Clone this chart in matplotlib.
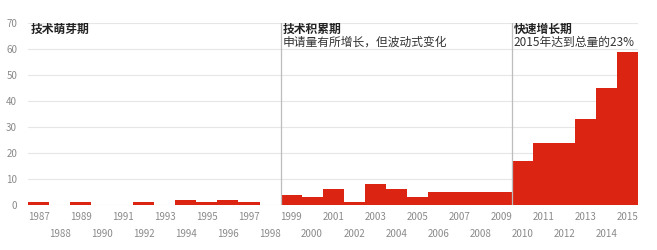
import numpy as np
import matplotlib
matplotlib.use("Agg")
import matplotlib.pyplot as plt

plt.rcParams['font.family'] = ['Noto Sans CJK SC', 'DejaVu Sans']

years = list(range(1987, 2016))
counts = [1, 0, 1, 0, 0, 1, 0, 2, 1, 2, 1, 0,
          4, 3, 6, 1, 8, 6, 3, 5, 5, 5, 5,
          17, 24, 24, 33, 45, 59]
phase_starts = [1987, 1999, 2010]
phase_titles = ["技术萌芽期", "技术积累期", "快速增长期"]
phase_notes = ["", "申请量有所增长，但波动式变化", "2015年达到总量的23%"]

RED = "#dc2412"
GREY = "#8a8a8a"

fig = plt.figure(figsize=(6.57, 2.5), dpi=100)
ax = fig.add_axes([0.043, 0.18, 0.928, 0.728])

x = np.arange(len(years))
ax.bar(x, counts, width=1.0, color=RED, linewidth=0, zorder=2)

ax.set_xlim(-0.5, len(years) - 0.5)
ax.set_ylim(0, 70)
ax.set_yticks(range(0, 71, 10))
ax.yaxis.grid(True, color="#e6e6e6", linewidth=0.8, zorder=0)
ax.set_axisbelow(True)
for s in ax.spines.values():
    s.set_visible(False)
ax.tick_params(axis="y", length=0, labelsize=7, labelcolor=GREY, pad=8)

# alternating two-row year labels
ax.set_xticks(x)
labels = [str(y) if i % 2 == 0 else "\n" + str(y) for i, y in enumerate(years)]
ax.set_xticklabels(labels, fontsize=7, color=GREY, linespacing=1.9)
ax.tick_params(axis="x", length=0, pad=5)

# phase separators and labels
for start, title, note in zip(phase_starts, phase_titles, phase_notes):
    xi = years.index(start) - 0.5
    if start != years[0]:
        ax.axvline(xi, ymin=0, ymax=1, color="#bdbdbd", linewidth=0.9, zorder=3)
    ax.text(xi + 0.1, 70.2, title, fontsize=8.5, fontweight="bold",
            color="#222222", va="top", ha="left", zorder=4)
    if note:
        ax.text(xi + 0.1, 65.0, note, fontsize=8.5, color="#333333",
                va="top", ha="left", zorder=4)

fig.savefig("out.png", dpi=100)
